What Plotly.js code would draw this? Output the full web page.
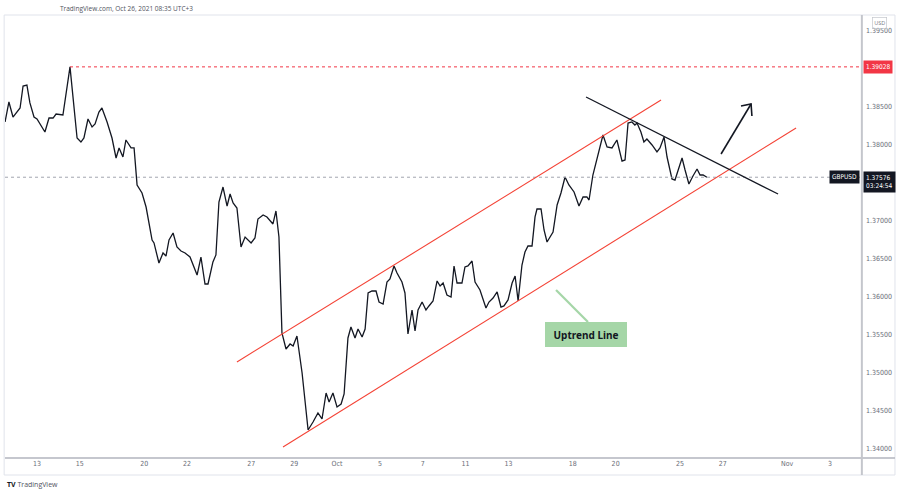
<!DOCTYPE html>
<html>
<head>
<meta charset="utf-8">
<script src="https://cdn.plot.ly/plotly-3.0.1.min.js"></script>
<style>
html,body{margin:0;padding:0;background:#fff;}
#chart{width:900px;height:494px;}
</style>
</head>
<body>
<div id="chart"></div>
<script>
// Time axis: trading days since Mon 13 Sep 2021 (fractions = intraday)
const days = [-1.49,-1.31,-1.12,-0.79,-0.65,-0.47,-0.33,-0.14,0,0.37,0.56,0.75,0.89,1.21,1.54,1.87,2.05,2.19,2.38,2.57,2.71,2.89,3.03,3.27,3.50,3.69,3.83,4.01,4.15,4.39,4.53,4.67,4.90,5.09,5.37,5.46,5.69,5.88,6.02,6.16,6.35,6.53,6.72,6.91,7.14,7.28,7.47,7.65,7.84,7.98,8.21,8.35,8.49,8.68,8.87,9.01,9.15,9.33,9.52,9.71,9.89,9.99,10.17,10.31,10.55,10.73,11.01,11.15,11.29,11.43,11.62,11.81,11.95,12.13,12.37,12.65,12.88,13.11,13.30,13.49,13.63,13.81,14.00,14.19,14.33,14.51,14.65,14.84,14.98,15.17,15.31,15.45,15.63,15.82,15.96,16.15,16.33,16.47,16.66,16.80,17.03,17.17,17.31,17.50,17.64,17.78,17.97,18.15,18.29,18.48,18.67,18.81,18.95,19.13,19.32,19.46,19.60,19.83,19.97,20.11,20.30,20.44,20.67,20.95,21.09,21.28,21.47,21.65,21.79,21.98,22.17,22.31,22.45,22.63,22.77,22.91,23.10,23.24,23.33,23.52,23.66,23.80,24.08,24.27,24.45,24.64,24.82,25.06,25.29,25.48,25.66,25.76,25.94,26.13,26.41,26.60,26.83,27.06,27.30,27.44,27.58,27.76,27.90,28.00,28.18,28.32,28.46,28.70,28.93,29.07,29.26,29.40,29.63,29.77,29.91,30.10,30.24,30.42,30.61,30.80,30.94,31.08,31.26];
const close = [1.38303,1.38566,1.38368,1.38487,1.38776,1.38789,1.38553,1.38368,1.38342,1.38171,1.38355,1.38355,1.38408,1.38395,1.39028,1.38092,1.38039,1.38092,1.38342,1.38237,1.38276,1.38434,1.38487,1.38303,1.38092,1.37829,1.37961,1.37842,1.38066,1.37961,1.37961,1.37474,1.37368,1.37184,1.36750,1.36711,1.36447,1.36579,1.36539,1.36750,1.36842,1.36658,1.36605,1.36579,1.36526,1.36421,1.36289,1.36526,1.36171,1.36171,1.36461,1.36553,1.37250,1.37447,1.37197,1.37355,1.37237,1.37171,1.36658,1.36789,1.36737,1.36711,1.36776,1.37026,1.37079,1.37053,1.36961,1.37132,1.36789,1.35526,1.35316,1.35382,1.35355,1.35487,1.35000,1.34250,1.34355,1.34474,1.34395,1.34737,1.34618,1.34737,1.34553,1.34592,1.34724,1.35461,1.35605,1.35461,1.35579,1.35474,1.35579,1.36053,1.36079,1.36079,1.35934,1.35908,1.36197,1.36237,1.36408,1.36316,1.36197,1.36053,1.35513,1.35829,1.35553,1.35829,1.35934,1.35829,1.35882,1.35947,1.36211,1.36145,1.36184,1.36026,1.36000,1.36408,1.36184,1.36184,1.36395,1.36408,1.36474,1.36197,1.36092,1.35855,1.35934,1.35987,1.36066,1.35868,1.35882,1.35961,1.36184,1.36276,1.35947,1.36421,1.36592,1.36671,1.36671,1.37053,1.37158,1.37158,1.36882,1.36724,1.36855,1.37211,1.37368,1.37579,1.37474,1.37382,1.37197,1.37316,1.37316,1.37276,1.37605,1.37829,1.38132,1.37974,1.37961,1.38066,1.37789,1.37803,1.38289,1.38303,1.38263,1.38289,1.38171,1.38039,1.38079,1.38000,1.37908,1.37961,1.38105,1.37842,1.37553,1.37539,1.37671,1.37829,1.37671,1.37487,1.37592,1.37684,1.37605,1.37605,1.37576];

const tickDays   = [0,2,5,7,10,12,14,16,18,20,22,25,27,30,32,35,37];
const tickLabels = ['13','15','20','22','27','29','Oct','5','7','11','13','18','20','25','27','Nov','3'];
// 1.390 and 1.375 are hidden behind the price labels in the reference
const yTicks = [1.340,1.345,1.350,1.355,1.360,1.365,1.370,1.380,1.385,1.395];

const lastPrice = 1.37576;
const highPrice = 1.39028;
const highDay = 1.54;
const countdown = '03:24:54';

// drawing tools (day, price)
const channelUpper = [[9.33,1.35145],[29.12,1.38592]];
const channelLower = [[11.48,1.34026],[35.42,1.38224]];
const resistance   = [[25.62,1.38632],[34.58,1.37355]];
const arrowLine    = [[31.92,1.37882],[33.32,1.38539]];
const arrowHead    = [[32.85,1.38513],[33.32,1.38539],[33.36,1.38382]];
const calloutLine  = [[24.22,1.36092],[25.71,1.35671]];
const calloutPos   = [25.62,1.35513];

const xr = [-1.493, 38.45];
const yr = [1.338816, 1.397105];

const seg = (p, color, w, dash) => ({type:'line', xref:'x', yref:'y',
  x0:p[0][0], y0:p[0][1], x1:p[1][0], y1:p[1][1],
  line:{color:color, width:w, dash:dash||'solid'}});

const shapes = [
  // frame
  {type:'line', xref:'paper', yref:'paper', x0:-0.001, x1:1.0397, y0:1, y1:1, line:{color:'#e0e3eb', width:1}},
  {type:'line', xref:'paper', yref:'paper', x0:-0.001, x1:-0.001, y0:1, y1:-0.0384, line:{color:'#e0e3eb', width:1}},
  {type:'line', xref:'paper', yref:'paper', x0:-0.001, x1:1.0397, y0:-0.0384, y1:-0.0384, line:{color:'#e0e3eb', width:1}},
  {type:'line', xref:'paper', yref:'paper', x0:1.0397, x1:1.0397, y0:1, y1:-0.0384, line:{color:'#e0e3eb', width:1}},
  {type:'line', xref:'paper', yref:'paper', x0:0, x1:1.0397, y0:0, y1:0, line:{color:'#b2b5be', width:1.5}},
  {type:'line', xref:'paper', yref:'paper', x0:1.001, x1:1.001, y0:1, y1:-0.0384, line:{color:'#c4c6cc', width:2}},
  // price lines
  {type:'line', xref:'paper', yref:'y', x0:0, x1:1, y0:lastPrice, y1:lastPrice, line:{color:'#a3a6af', width:1, dash:'dot'}},
  {type:'line', xref:'x', yref:'y', x0:highDay, x1:xr[1], y0:highPrice, y1:highPrice, line:{color:'#f23645', width:1, dash:'dot'}},
  seg(channelUpper, '#f44336', 1.1),
  seg(channelLower, '#f44336', 1.1),
  seg(resistance, '#131722', 1.3),
  seg(arrowLine, '#131722', 1.6),
  {type:'path', xref:'x', yref:'y',
   path:'M'+arrowHead[0][0]+','+arrowHead[0][1]+' L'+arrowHead[1][0]+','+arrowHead[1][1]+' L'+arrowHead[2][0]+','+arrowHead[2][1],
   line:{color:'#131722', width:1.6}},
  seg(calloutLine, '#a5d6a7', 2.2)
];

const annotations = [
  {xref:'paper', yref:'paper', x:0.062, y:1.0158, xanchor:'left', yanchor:'middle', showarrow:false,
   text:'TradingView.com, Oct 26, 2021 08:35 UTC+3', font:{family:'Open Sans, sans-serif', size:6.5, color:'#50535e'}},
  {xref:'paper', yref:'paper', x:0, y:-0.0587, xanchor:'left', yanchor:'middle', showarrow:false,
   text:'<b>TV</b> <span style="color:#50535e">TradingView</span>', font:{family:'Open Sans, sans-serif', size:7, color:'#131722'}},
  {xref:'paper', yref:'paper', x:1.0216, y:0.982, xanchor:'center', yanchor:'middle', showarrow:false,
   text:'USD', font:{family:'Open Sans, sans-serif', size:5.5, color:'#787b86'}, bordercolor:'#c4c6cc', borderwidth:0.7, borderpad:1.5},
  {xref:'paper', yref:'y', x:1.0025, y:highPrice, xanchor:'left', yanchor:'middle', showarrow:false,
   text:highPrice.toFixed(5), bgcolor:'#f23645', font:{family:'DejaVu Sans Condensed, sans-serif', size:6.5, color:'#ffffff'}, borderpad:2},
  {xref:'paper', yref:'y', x:1.0025, y:lastPrice, xanchor:'left', yanchor:'top', yshift:6, showarrow:false, align:'left',
   text:lastPrice.toFixed(5)+'<br>'+countdown, bgcolor:'#131722', font:{family:'DejaVu Sans Condensed, sans-serif', size:6.5, color:'#ffffff'}, borderpad:2},
  {xref:'paper', yref:'y', x:0.9988, y:lastPrice, xanchor:'right', yanchor:'middle', showarrow:false,
   text:'GBPUSD', bgcolor:'#131722', font:{family:'DejaVu Sans Condensed, sans-serif', size:6.5, color:'#ffffff'}, borderpad:2},
  {xref:'x', yref:'y', x:calloutPos[0], y:calloutPos[1], xanchor:'center', yanchor:'middle', showarrow:false,
   text:'<b>Uptrend Line</b>', bgcolor:'#a5d6a7', bordercolor:'#a5d6a7', borderwidth:1, borderpad:5, width:70, height:13,
   font:{family:'Noto Sans, sans-serif', size:10, color:'#131722'}}
];

const trace = {x:days, y:close, type:'scatter', mode:'lines',
  line:{color:'#131722', width:1.3}, hoverinfo:'skip'};

const layout = {
  width:900, height:494,
  margin:{l:5, r:39, t:15, b:36, pad:0},
  paper_bgcolor:'#ffffff', plot_bgcolor:'#ffffff',
  showlegend:false,
  xaxis:{range:xr, tickmode:'array', tickvals:tickDays, ticktext:tickLabels,
    showgrid:false, zeroline:false, showline:false, ticks:'',
    tickfont:{family:'DejaVu Sans Condensed, sans-serif', size:7, color:'#6a6d78'}, fixedrange:true},
  yaxis:{range:yr, side:'right', tickmode:'array', tickvals:yTicks, ticktext:yTicks.map(v=>v.toFixed(5)),
    showgrid:false, zeroline:false, showline:false, ticks:'',
    ticklabelstandoff:4,
    tickfont:{family:'DejaVu Sans Condensed, sans-serif', size:7, color:'#6a6d78'}, fixedrange:true},
  shapes:shapes,
  annotations:annotations
};

Plotly.newPlot('chart', [trace], layout, {displayModeBar:false, staticPlot:true});
</script>
</body>
</html>
